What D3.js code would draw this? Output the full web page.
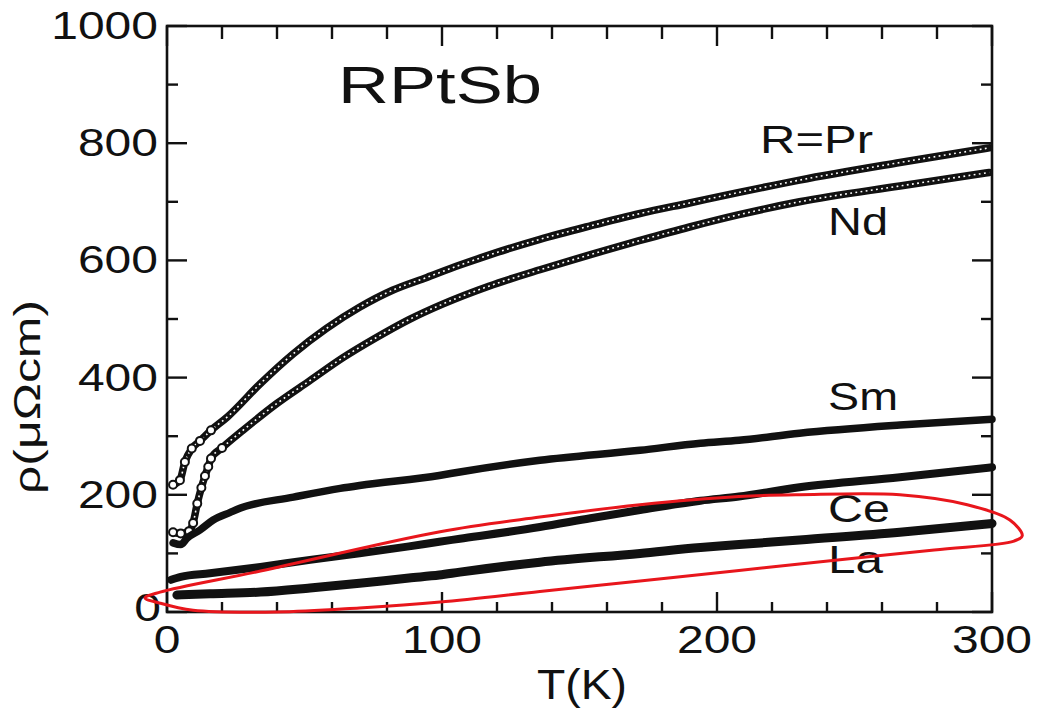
<!DOCTYPE html>
<html>
<head>
<meta charset="utf-8">
<script src="https://cdn.jsdelivr.net/npm/d3@7/dist/d3.min.js"></script>
<style>
  html, body { margin: 0; padding: 0; background: #fff; }
  svg { display: block; }
  text { font-family: "Liberation Sans", Arial, Helvetica, sans-serif; fill: #111; }
</style>
</head>
<body>
<svg id="chart" width="1040" height="708"></svg>
<script>
// ---------- data ----------
const prT  = [2.2, 4.7, 6.5, 9, 12, 16, 22, 34, 46, 58, 70, 82, 94.5, 106.5, 117, 135.6, 154, 172, 190, 208, 230, 266.5, 299];
const prR  = [217, 225, 256, 279, 292, 310, 333, 390, 441, 484, 520, 549, 571, 592, 609, 636, 659, 680, 698, 716, 737, 767, 792];

const ndT  = [2.2, 5, 8, 9.5, 11, 12.5, 13.8, 15, 16, 20, 27.6, 40, 52, 64, 76, 88, 100, 117, 135.6, 154, 172, 190, 208, 230, 266.5, 299];
const ndR  = [136, 134, 138, 152, 185, 212, 232, 248, 262, 280, 310, 356, 395, 434, 468, 499, 525, 556, 584, 610, 634, 657, 678, 700, 727, 750];

const smT  = [2.2, 5, 7.3, 12, 16.8, 23, 26.5, 46, 63, 70, 99, 106.5, 135.6, 172, 194, 208, 230, 266.5, 300];
const smR  = [118, 115, 126, 140, 157, 170, 177, 196, 211, 216, 233, 239, 259, 276, 288, 293, 305, 319, 329];

const ceT  = [1.5, 5, 15.6, 34, 52, 70, 88, 99, 106.5, 135.6, 154, 172, 194, 208, 230, 266.5, 300];
const ceR  = [55, 60, 66, 77, 89, 100, 112, 120, 125, 145, 160, 174, 190, 197, 213, 230, 247];

const laT  = [3.6, 15.6, 34, 52, 70, 88, 99, 106.5, 135.6, 172, 194, 208, 230, 266.5, 300];
const laR  = [29, 31, 34, 41, 49, 58, 63, 68, 85, 100, 110, 115, 123, 136, 151];

// red hand-drawn loop annotation (T, rho)
const loopT = [-8, -2.5, 34, 99.3, 135.6, 172, 208, 230, 266.5, 291, 306.5, 311, 308, 279, 230, 208, 172, 135.6, 99.3, 70, 40, 9.5, -2.5];
const loopR = [24, 34, 70, 137, 162, 183, 197, 200, 200, 183, 157, 130, 121, 106, 82, 71, 53, 35, 17, 7, 0, 3, 15];

const xTicksMajor = [0, 100, 200, 300];
const xTicksMinor = d3.range(0, 301, 20);
const yTicksMajor = [0, 200, 400, 600, 800, 1000];
const yTicksMinor = d3.range(0, 1001, 100);

const title = "RPtSb";
const xTitle = "T(K)";
const yTitle = "ρ(μΩcm)";

// ---------- layout ----------
const svg = d3.select("#chart");
const L = 167, R = 992, T = 26, B = 612;
const x = d3.scaleLinear().domain([0, 300]).range([L, R]);
const y = d3.scaleLinear().domain([0, 1000]).range([B, T]);

const DIGIT = 26.7;   // glyph advance of the stretched digits in the reference

// frame
svg.append("rect").attr("x", L).attr("y", T).attr("width", R - L).attr("height", B - T)
  .attr("fill", "none").attr("stroke", "#111").attr("stroke-width", 2.6);

// ticks (all pointing inward)
const tk = svg.append("g").attr("stroke", "#111").attr("stroke-width", 2.4);
xTicksMinor.forEach(v => {
  const major = xTicksMajor.includes(v);
  const len = major ? 20 : 10;
  tk.append("line").attr("x1", x(v)).attr("x2", x(v)).attr("y1", B).attr("y2", B - len);
  tk.append("line").attr("x1", x(v)).attr("x2", x(v)).attr("y1", T).attr("y2", T + (major ? 20 : 13));
});
yTicksMinor.forEach(v => {
  const major = yTicksMajor.includes(v);
  const len = major ? 20 : 11;
  tk.append("line").attr("x1", L).attr("x2", L + len).attr("y1", y(v)).attr("y2", y(v));
  tk.append("line").attr("x1", R).attr("x2", R - len).attr("y1", y(v)).attr("y2", y(v));
});

// tick labels
function stretchedText(str, xpos, ypos, size, width, anchor) {
  let x0 = xpos;
  if (anchor === "middle") x0 = xpos - width / 2;
  if (anchor === "end") x0 = xpos - width;
  return svg.append("text").attr("x", x0).attr("y", ypos)
    .attr("font-size", size).attr("textLength", width)
    .attr("lengthAdjust", "spacingAndGlyphs").text(str);
}
yTicksMajor.forEach(v => {
  const s = String(v);
  stretchedText(s, v === 0 ? 161 : 158, y(v) + (v === 0 ? 9 : 13), 39, DIGIT * s.length, "end");
});
xTicksMajor.forEach(v => {
  const s = String(v);
  stretchedText(s, x(v), 653, 39, DIGIT * s.length, "middle");
});

// axis titles and title
stretchedText(xTitle, 582, 699, 42, 90, "middle");
svg.append("text")
  .attr("transform", "translate(40,397) rotate(-90)")
  .attr("x", -97).attr("y", 0)
  .attr("font-size", 37).attr("textLength", 194).attr("lengthAdjust", "spacingAndGlyphs")
  .text(yTitle);
stretchedText(title, 338, 103, 51, 204, "start");

// ---------- series ----------
const zip = (a, b) => a.map((v, i) => [v, b[i]]);
const line = d3.line().x(d => x(d[0])).y(d => y(d[1])).curve(d3.curveMonotoneX);

function chainSeries(tArr, rArr) {
  const pts = zip(tArr, rArr);
  svg.append("path").attr("d", line(pts)).attr("fill", "none")
    .attr("stroke", "#111").attr("stroke-width", 7.5).attr("stroke-linecap", "round");
  svg.append("path").attr("d", line(pts)).attr("fill", "none")
    .attr("stroke", "#fff").attr("stroke-width", 1.6).attr("stroke-dasharray", "1.8 3.4");
  // the sparse low-temperature points show as separate open circles
  svg.append("g").selectAll("circle").data(pts.filter(d => d[0] <= 20)).join("circle")
    .attr("cx", d => x(d[0])).attr("cy", d => y(d[1])).attr("r", 4)
    .attr("fill", "#fff").attr("stroke", "#111").attr("stroke-width", 2);
}
function solidSeries(tArr, rArr, w) {
  const pts = zip(tArr, rArr);
  svg.append("path").attr("d", line(pts)).attr("fill", "none")
    .attr("stroke", "#111").attr("stroke-width", w).attr("stroke-linecap", "round");
}

chainSeries(prT, prR);
chainSeries(ndT, ndR);
solidSeries(smT, smR, 7.5);
solidSeries(ceT, ceR, 8);
solidSeries(laT, laR, 9);

// curve labels
stretchedText("R=Pr", 760, 153, 39, 113, "start");
stretchedText("Nd", 828, 235, 39, 60, "start");
stretchedText("Sm", 828, 410, 39, 70, "start");
stretchedText("Ce", 828, 522, 39, 62, "start");
stretchedText("La", 828, 573, 39, 55, "start");

// red loop
svg.append("path")
  .attr("d", d3.line().x(d => x(d[0])).y(d => y(d[1])).curve(d3.curveCatmullRomClosed.alpha(0.5))(zip(loopT, loopR)))
  .attr("fill", "none").attr("stroke", "#e8161c").attr("stroke-width", 3);
</script>
</body>
</html>
